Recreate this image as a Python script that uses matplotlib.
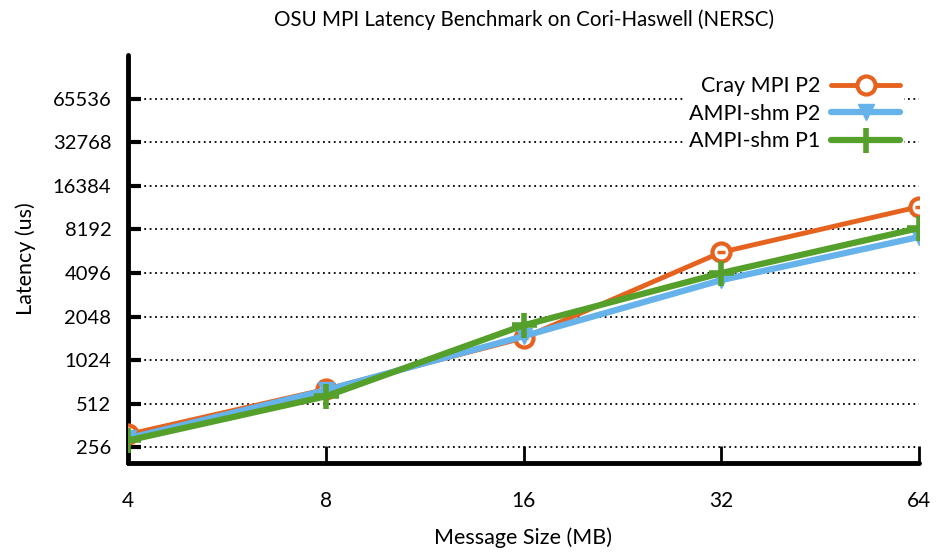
import matplotlib
matplotlib.use("Agg")
import matplotlib.pyplot as plt
from matplotlib.ticker import FixedLocator, NullLocator

plt.rcParams['font.family'] = ['Lato', 'DejaVu Sans']

sizes = [4, 8, 16, 32, 64]
cray_p2 = [315, 645, 1460, 5700, 11750]
ampi_p2 = [296, 636, 1500, 3660, 7270]
ampi_p1 = [286, 577, 1784, 4096, 8370]
ytick_vals = [256, 512, 1024, 2048, 4096, 8192, 16384, 32768, 65536]
xtick_vals = [4, 8, 16, 32, 64]

c_orange = '#e5621f'
c_blue = '#66b2ea'
c_green = '#559f2b'

fig = plt.figure(figsize=(9.41, 5.55), dpi=100)
ax = fig.add_axes([128/941, 92/555, (919-128)/941, (463-55)/555])

ax.set_xscale('log', base=2)
ax.set_yscale('log', base=2)
ax.set_xlim(4, 64)
ax.set_ylim(200, 131072)

for y in ytick_vals:
    ax.axhline(y, color='black', linestyle=(0, (1, 2.0)), linewidth=1.3, zorder=0.5)

l1, = ax.plot(sizes, cray_p2, color=c_orange, linewidth=3.5, marker='o', markersize=13,
              markerfacecolor='white', markeredgecolor=c_orange, markeredgewidth=3,
              label='Cray MPI P2', zorder=3, solid_capstyle='round')
ax.plot(sizes, cray_p2, linestyle='none', marker='_', markersize=6, markeredgewidth=2.5,
        color=c_orange, zorder=3.1)
l2, = ax.plot(sizes, ampi_p2, color=c_blue, linewidth=4.5, marker='v', markersize=12,
              markerfacecolor=c_blue, markeredgecolor=c_blue,
              label='AMPI-shm P2', zorder=3.5, solid_capstyle='round')
l3, = ax.plot(sizes, ampi_p1, color=c_green, linewidth=4.5, marker='+', markersize=18,
              markeredgewidth=4, label='AMPI-shm P1', zorder=4, solid_capstyle='round')

ax.xaxis.set_major_locator(FixedLocator(xtick_vals))
ax.xaxis.set_minor_locator(NullLocator())
ax.set_xticklabels([str(v) for v in xtick_vals])
ax.yaxis.set_major_locator(FixedLocator(ytick_vals))
ax.yaxis.set_minor_locator(NullLocator())
ax.set_yticklabels([str(v) for v in ytick_vals])

ax.tick_params(axis='y', direction='in', length=9, width=3, labelsize=14.5, pad=12, colors='black')
ax.tick_params(axis='x', direction='in', length=12, width=2, labelsize=15, pad=20, colors='black')

for s in ['top', 'right']:
    ax.spines[s].set_visible(False)
for s in ['left', 'bottom']:
    ax.spines[s].set_linewidth(3.5)
    ax.spines[s].set_capstyle('round')

ax.set_title('OSU MPI Latency Benchmark on Cori-Haswell (NERSC)', fontsize=14.8, pad=21)
ax.set_xlabel('Message Size (MB)', fontsize=15.5, labelpad=12)
ax.set_ylabel('Latency (us)', fontsize=15.5, labelpad=12)

leg = ax.legend(handles=[l1, l2, l3], loc='upper right', bbox_to_anchor=(0.995, 0.985),
                markerfirst=False, frameon=True, fancybox=False, fontsize=15.5,
                handlelength=3.2, handletextpad=0.5, labelspacing=0.35, borderpad=0.2)
leg.get_frame().set_edgecolor('none')
leg.get_frame().set_facecolor('white')
leg.get_frame().set_alpha(1)
leg.set_zorder(5)
try:
    for col in leg._legend_handle_box.get_children():
        col.align = 'right'
except Exception:
    pass

fig.savefig('out.png', dpi=100)
